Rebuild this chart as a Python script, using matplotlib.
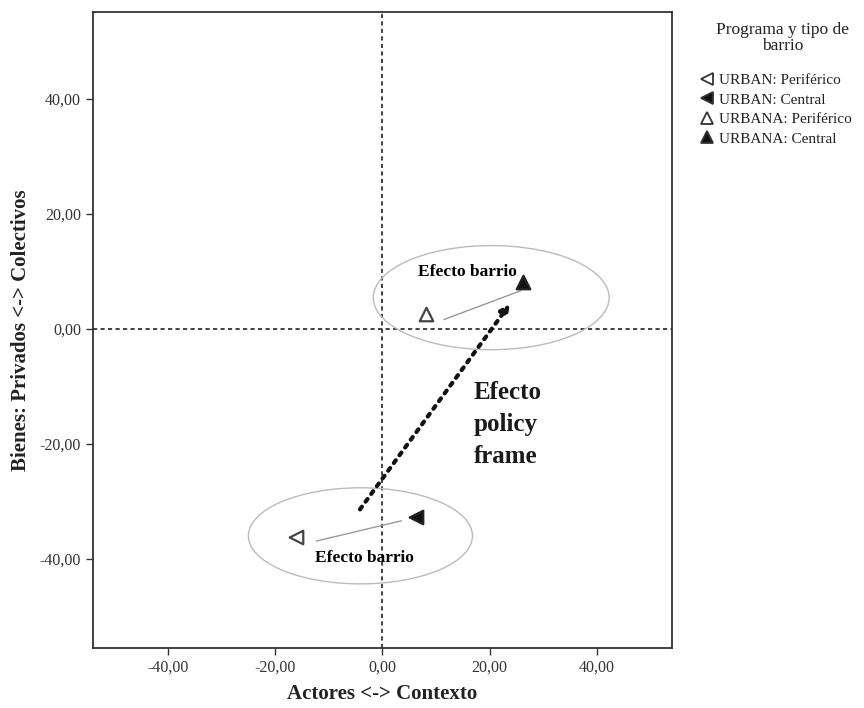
import matplotlib.pyplot as plt
from matplotlib.patches import Ellipse
from matplotlib.ticker import FuncFormatter
from matplotlib.lines import Line2D

plt.rcParams['font.family'] = ['Liberation Serif', 'DejaVu Serif']

# group positions (Actores <-> Contexto, Bienes)
groups = ['URBAN: Periférico', 'URBAN: Central', 'URBANA: Periférico', 'URBANA: Central']
x_vals = [-16.2, 6.3, 8.2, 26.3]
y_vals = [-36.2, -32.7, 2.6, 8.2]
markers = ['<', '<', '^', '^']
filled = [False, True, False, True]

# ellipses: center x, center y, width, height
ell_cx = [20.3, -4.1]
ell_cy = [5.4, -36.0]
ell_w = [44.0, 41.8]
ell_h = [18.1, 16.7]

ticks = [-40, -20, 0, 20, 40]

fig = plt.figure(figsize=(8.64, 7.08), dpi=100)
ax = fig.add_axes([0.1076, 0.0847, 0.670, 0.898])
ax.set_xlim(-54, 54)
ax.set_ylim(-55.5, 55)

ax.axhline(0, color='#222222', linestyle=(0, (2.5, 2)), linewidth=1.2, zorder=1)
ax.axvline(0, color='#222222', linestyle=(0, (2.5, 2)), linewidth=1.2, zorder=1)

for cx, cy, w, h in zip(ell_cx, ell_cy, ell_w, ell_h):
    ax.add_patch(Ellipse((cx, cy), w, h, fill=False, edgecolor='#bbbbbb', linewidth=1.0))

# thin connectors between periférico and central
ax.plot([11.5, 25.8], [1.6, 6.6], color='#999999', linewidth=1.0)
ax.plot([-12.3, 3.5], [-36.9, -33.4], color='#999999', linewidth=1.0)

for x, y, m, f in zip(x_vals, y_vals, markers, filled):
    ax.scatter(x, y, marker=m, s=95, facecolor='#111111' if f else 'white',
               edgecolor='#222222' if f else '#444444', linewidth=1.6, zorder=4)

# policy frame arrow
ax.annotate('', xy=(24.1, 4.7), xytext=(-4.5, -31.8),
            arrowprops=dict(arrowstyle='-|>', color='#111111', linestyle=(0, (0.8, 1.5)),
                            linewidth=3.0, mutation_scale=13))

ax.text(15.9, 9.9, 'Efecto barrio', ha='center', va='center', fontsize=12.5, fontweight='bold')
ax.text(-3.4, -39.8, 'Efecto barrio', ha='center', va='center', fontsize=12.5, fontweight='bold')
ax.text(17.0, -16.7, 'Efecto\npolicy\nframe', ha='left', va='center', fontsize=18,
        fontweight='bold', color='#1a1a1a', linespacing=1.5)

fmt = FuncFormatter(lambda v, p: f'{v:.2f}'.replace('.', ','))
ax.set_xticks(ticks)
ax.set_yticks(ticks)
ax.xaxis.set_major_formatter(fmt)
ax.yaxis.set_major_formatter(fmt)
ax.tick_params(labelsize=11.5, length=5, width=1, colors='#333333', labelcolor='#333333')
for s in ax.spines.values():
    s.set_color('#333333')
    s.set_linewidth(1.3)

ax.set_xlabel('Actores <-> Contexto', fontsize=15, fontweight='bold', color='#222222', labelpad=6)
ax.set_ylabel('Bienes: Privados <-> Colectivos', fontsize=15, fontweight='bold', color='#222222',
              labelpad=6)

# legend title as separate text so the gap to the entries matches
fig.text(783 / 864, 1 - 38 / 708, 'Programa y tipo de\nbarrio', ha='center', va='center',
         fontsize=12.5, color='#222222', linespacing=1.05)

handles = [Line2D([], [], linestyle='none', marker=m, markersize=8,
                  markerfacecolor='#111111' if f else 'white', markeredgecolor='#333333',
                  markeredgewidth=1.3) for m, f in zip(markers, filled)]
leg = fig.legend(handles, groups, loc='upper left', bbox_to_anchor=(0.801, 1 - 66 / 708),
                 frameon=False, fontsize=11, handletextpad=0.35, handlelength=0.9,
                 labelspacing=0.38, borderpad=0)
for t in leg.get_texts():
    t.set_color('#222222')

fig.savefig('out.png', dpi=100)
